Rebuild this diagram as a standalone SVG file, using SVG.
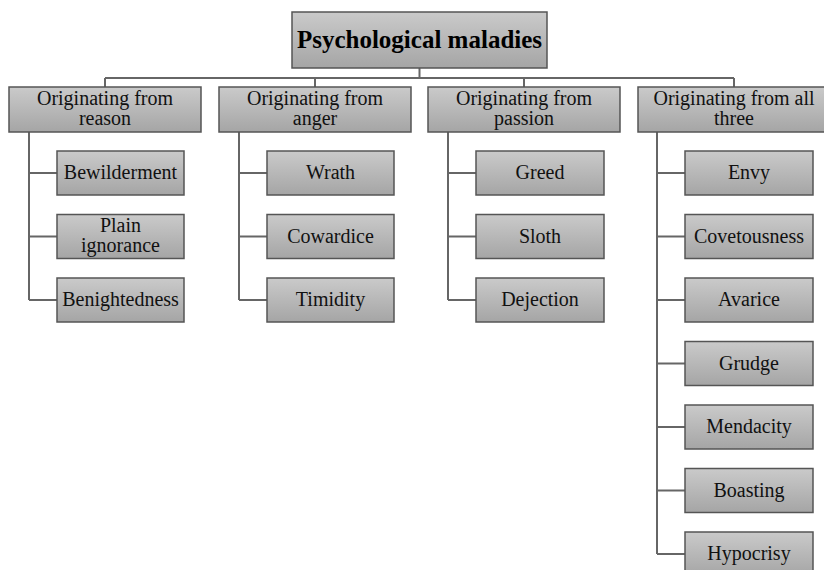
<svg xmlns="http://www.w3.org/2000/svg" width="824" height="570" viewBox="0 0 824 570">
<defs>
<linearGradient id="g" x1="0" y1="0" x2="0" y2="1">
<stop offset="0" stop-color="#cacaca"/>
<stop offset="1" stop-color="#a5a5a5"/>
</linearGradient>
<style>
.box{fill:url(#g);stroke:#555;stroke-width:1.5}
.t{font-family:"Liberation Serif","DejaVu Serif",serif;font-size:20px;fill:#111;text-anchor:middle}
.title{font-family:"Liberation Serif","DejaVu Serif",serif;font-size:25px;font-weight:bold;fill:#000;text-anchor:middle}
.c{fill:none;stroke:#666;stroke-width:2}
</style>
</defs>
<rect width="824" height="570" fill="#fff"/>
<g id="connectors" class="c">
<path d="M419.5 68V78M105 78H734M105 78V87M315 78V87M524 78V87M734 78V87"/>
<path d="M29 132V300M29 173H57M29 236.5H57M29 300H57"/>
<path d="M239 132V300M239 173H267M239 236.5H267M239 300H267"/>
<path d="M448 132V300M448 173H476M448 236.5H476M448 300H476"/>
<path d="M657 132V554M657 173H685M657 236.5H685M657 300H685M657 363.5H685M657 427H685M657 490.5H685M657 554H685"/>
</g>
<g id="root"><rect class="box" x="292" y="12" width="255" height="56"/><text class="title" x="419.5" y="48">Psychological maladies</text></g>
<g id="cat-reason"><rect class="box" x="9" y="87" width="192" height="45"/><text class="t" x="105" y="105">Originating from</text><text class="t" x="105" y="125">reason</text></g>
<g id="cat-anger"><rect class="box" x="219" y="87" width="192" height="45"/><text class="t" x="315" y="105">Originating from</text><text class="t" x="315" y="125">anger</text></g>
<g id="cat-passion"><rect class="box" x="428" y="87" width="192" height="45"/><text class="t" x="524" y="105">Originating from</text><text class="t" x="524" y="125">passion</text></g>
<g id="cat-all"><rect class="box" x="638" y="87" width="192" height="45"/><text class="t" x="734" y="105">Originating from all</text><text class="t" x="734" y="125">three</text></g>
<g id="bewilderment"><rect class="box" x="57" y="151" width="127" height="44"/><text class="t" x="120.5" y="179">Bewilderment</text></g>
<g id="plain-ignorance"><rect class="box" x="57" y="214.5" width="127" height="44"/><text class="t" x="120.5" y="232">Plain</text><text class="t" x="120.5" y="252">ignorance</text></g>
<g id="benightedness"><rect class="box" x="57" y="278" width="127" height="44"/><text class="t" x="120.5" y="306">Benightedness</text></g>
<g id="wrath"><rect class="box" x="267" y="151" width="127" height="44"/><text class="t" x="330.5" y="179">Wrath</text></g>
<g id="cowardice"><rect class="box" x="267" y="214.5" width="127" height="44"/><text class="t" x="330.5" y="242.5">Cowardice</text></g>
<g id="timidity"><rect class="box" x="267" y="278" width="127" height="44"/><text class="t" x="330.5" y="306">Timidity</text></g>
<g id="greed"><rect class="box" x="476" y="151" width="128" height="44"/><text class="t" x="540" y="179">Greed</text></g>
<g id="sloth"><rect class="box" x="476" y="214.5" width="128" height="44"/><text class="t" x="540" y="242.5">Sloth</text></g>
<g id="dejection"><rect class="box" x="476" y="278" width="128" height="44"/><text class="t" x="540" y="306">Dejection</text></g>
<g id="envy"><rect class="box" x="685" y="151" width="128" height="44"/><text class="t" x="749" y="179">Envy</text></g>
<g id="covetousness"><rect class="box" x="685" y="214.5" width="128" height="44"/><text class="t" x="749" y="242.5">Covetousness</text></g>
<g id="avarice"><rect class="box" x="685" y="278" width="128" height="44"/><text class="t" x="749" y="306">Avarice</text></g>
<g id="grudge"><rect class="box" x="685" y="341.5" width="128" height="44"/><text class="t" x="749" y="369.5">Grudge</text></g>
<g id="mendacity"><rect class="box" x="685" y="405" width="128" height="44"/><text class="t" x="749" y="433">Mendacity</text></g>
<g id="boasting"><rect class="box" x="685" y="468.5" width="128" height="44"/><text class="t" x="749" y="496.5">Boasting</text></g>
<g id="hypocrisy"><rect class="box" x="685" y="532" width="128" height="44"/><text class="t" x="749" y="560">Hypocrisy</text></g>
</svg>
